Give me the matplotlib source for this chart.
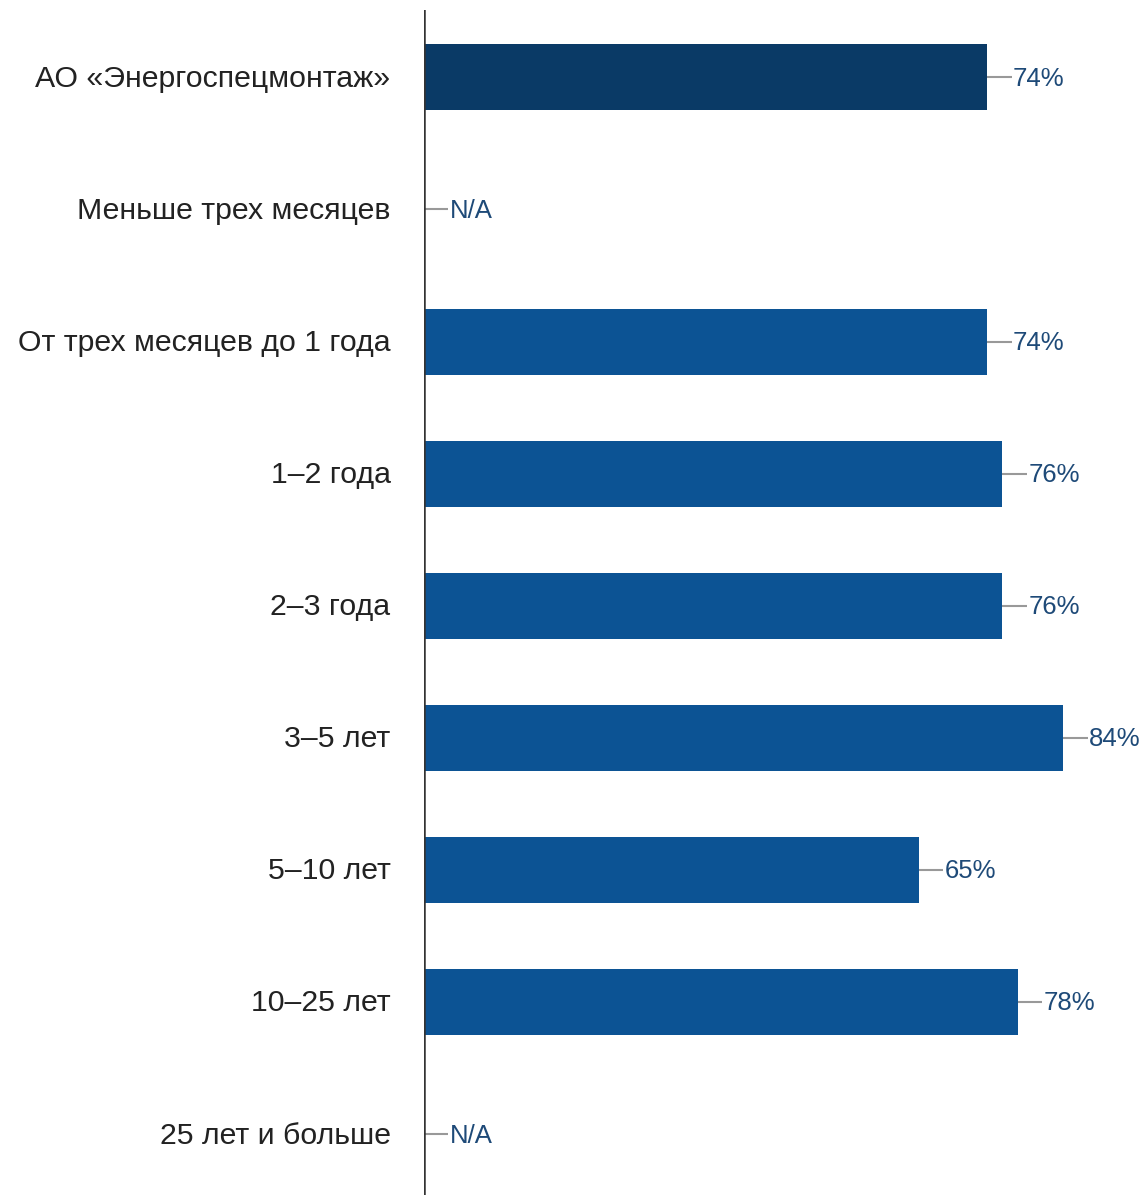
import matplotlib
matplotlib.use("Agg")
import matplotlib.pyplot as plt

plt.rcParams['font.family'] = ['Liberation Sans', 'DejaVu Sans']

categories = ["АО «Энергоспецмонтаж»", "Меньше трех месяцев", "От трех месяцев до 1 года",
              "1–2 года", "2–3 года", "3–5 лет", "5–10 лет", "10–25 лет", "25 лет и больше"]
values = [74, None, 74, 76, 76, 84, 65, 78, None]

W, H = 1144, 1195
fig = plt.figure(figsize=(W / 100, H / 100), dpi=100)
ax = fig.add_axes([424 / W, 0, 1 - 424 / W, 1 - 10 / H])

bar_colors = ['#0a3a66'] + ['#0c5394'] * (len(categories) - 1)
label_color = '#1e4a78'
conn = 3.2  # connector length in % units

for i, (cat, v) in enumerate(zip(categories, values)):
    x = v if v is not None else 0
    if v is not None:
        ax.barh(i, v, height=0.5, color=bar_colors[i])
        txt = f"{v}%"
    else:
        txt = "N/A"
    ax.plot([x, x + conn], [i, i], color='#999999', lw=1.5, solid_capstyle='butt')
    ax.text(x + conn + 0.2, i + 0.01, txt, va='center', ha='left', fontsize=18.5, color=label_color)
    ax.text(-4.4, i + 0.01, cat, va='center', ha='right', fontsize=21.8, color='#222222')

ax.set_xlim(0, 94.6)
ax.set_ylim(8.46, -0.51)
ax.axvline(0, color='#333333', lw=1.8)
ax.axis('off')

fig.savefig("out.png", dpi=100)
